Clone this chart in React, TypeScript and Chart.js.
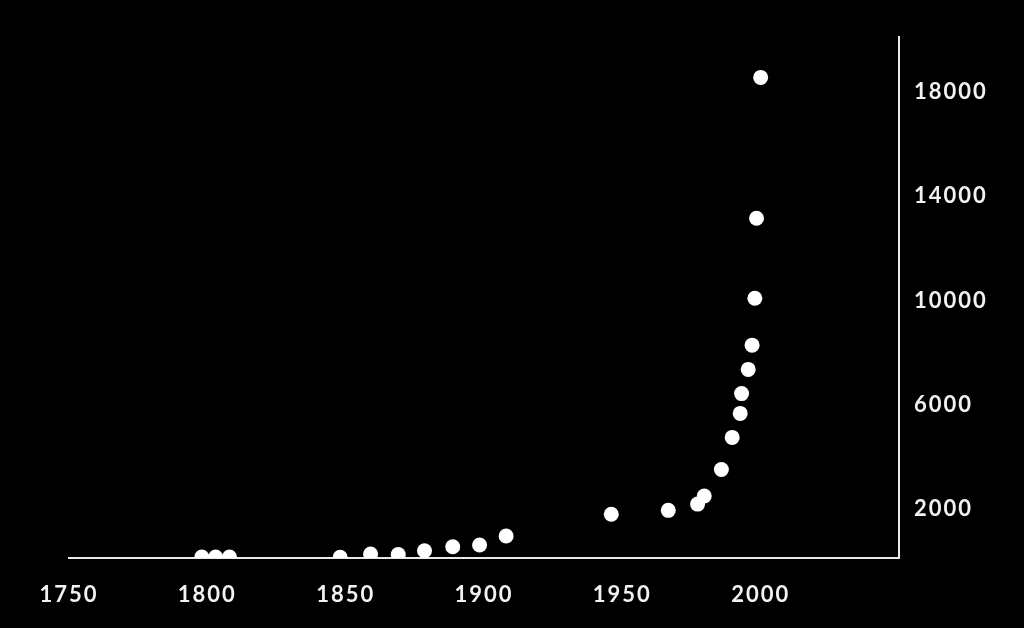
import React, { useEffect, useRef } from "react";
import { Chart, registerables } from "chart.js";

Chart.register(...registerables);

const years = [
  1798, 1803, 1808, 1848, 1859, 1869, 1878.5, 1888.7, 1898.4, 1908,
  1946, 1966.6, 1977.2, 1979.6, 1985.8, 1989.7, 1992.6, 1993.1, 1995.5,
  1996.9, 1997.9, 1998.5, 2000,
];
const values = [
  40, 40, 40, 30, 150, 130, 280, 430, 500, 845,
  1680, 1830, 2070, 2380, 3400, 4630, 5550, 6310, 7240,
  8170, 9970, 13040, 18450,
];
const xTicks = [1750, 1800, 1850, 1900, 1950, 2000];
const yTicks = [2000, 6000, 10000, 14000, 18000];

const FONT = { family: "Lato, 'DejaVu Sans', sans-serif", size: 22, weight: "bold" as const };
const YFONT = { ...FONT, lineHeight: 0.28 };

export default function App() {
  const ref = useRef<HTMLCanvasElement>(null);
  useEffect(() => {
    document.body.style.margin = "0";
    document.body.style.background = "#000";
    const spacing = {
      id: "spacing",
      beforeInit(chart: any) { chart.ctx.letterSpacing = "2px"; },
      beforeUpdate(chart: any) { chart.ctx.letterSpacing = "2px"; },
      beforeDraw(chart: any) { chart.ctx.letterSpacing = "2px"; },
    };
    const chart = new Chart(ref.current!, {
      type: "scatter",
      data: {
        datasets: [
          {
            data: years.map((y, i) => ({ x: y, y: values[i] })),
            backgroundColor: "#ffffff",
            borderWidth: 0,
            pointRadius: 7.5,
          },
        ],
      },
      options: {
        animation: false,
        responsive: false,
        layout: { padding: { left: 69, top: 37, right: 0, bottom: 0 } },
        plugins: { legend: { display: false }, tooltip: { enabled: false } },
        scales: {
          x: {
            type: "linear",
            min: 1750,
            max: 2050,
            grid: { display: false, drawTicks: false },
            border: { display: true, color: "#e8e8e8", width: 2 },
            afterBuildTicks: (s: any) => { s.ticks = xTicks.map((v) => ({ value: v })); },
            afterFit: (s: any) => { s.height = 70; },
            ticks: { color: "#f2f2f2", font: FONT, padding: 24, maxRotation: 0, callback: (v: any) => String(v) },
          },
          y: {
            position: "right",
            min: 0,
            max: 20000,
            grid: { display: false, drawTicks: false },
            border: { display: true, color: "#e8e8e8", width: 2 },
            afterBuildTicks: (s: any) => { s.ticks = yTicks.map((v) => ({ value: v })); },
            afterFit: (s: any) => { s.width = 125; },
            ticks: { color: "#f2f2f2", font: YFONT, padding: 15, callback: (v: any) => ["", String(v)] },
          },
        },
      },
      plugins: [spacing],
    });
    return () => chart.destroy();
  }, []);
  return (
    <div style={{ position: "fixed", left: 0, top: 0, width: 1024, height: 628, background: "#000" }}>
      <canvas ref={ref} width={1024} height={628} style={{ width: 1024, height: 628, display: "block" }} />
    </div>
  );
}
